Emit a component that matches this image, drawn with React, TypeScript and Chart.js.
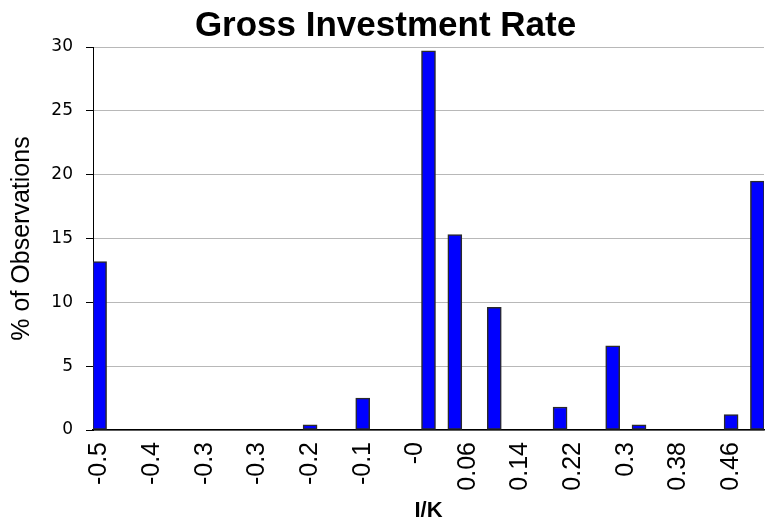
import React, { useEffect, useRef } from "react";
import { Chart, registerables } from "chart.js";

Chart.register(...registerables);

const categories = [
  "-0.50", "-0.48", "-0.46", "-0.44", "-0.42", "-0.40", "-0.38", "-0.36", "-0.34", "-0.32",
  "-0.30", "-0.28", "-0.26", "-0.24", "-0.22", "-0.20", "-0.18", "-0.16", "-0.14", "-0.12",
  "-0.10", "-0.08", "-0.06", "-0.04", "-0.02", "0.00", "0.02", "0.04", "0.06", "0.08",
  "0.10", "0.12", "0.14", "0.16", "0.18", "0.20", "0.22", "0.24", "0.26", "0.28",
  "0.30", "0.32", "0.34", "0.36", "0.38", "0.40", "0.42", "0.44", "0.46", "0.48",
  "0.50",
];

const tickLabels = ["-0.5", "-0.4", "-0.3", "-0.3", "-0.2", "-0.1", "-0", "0.06", "0.14", "0.22", "0.3", "0.38", "0.46"];

const barCategories = ["-0.50", "-0.18", "-0.10", "0.00", "0.04", "0.10", "0.20", "0.28", "0.32", "0.46", "0.50"];
const barValues = [13.2, 0.4, 2.5, 29.7, 15.3, 9.6, 1.8, 6.6, 0.4, 1.2, 19.5];

const yTicks = [0, 5, 10, 15, 20, 25, 30];

const FONT = "'Liberation Sans', Arial, sans-serif";

export default function App() {
  const ref = useRef<HTMLCanvasElement | null>(null);

  useEffect(() => {
    document.body.style.margin = "0";
    if (!ref.current) return;
    const data = categories.map((c) => {
      const i = barCategories.indexOf(c);
      return i >= 0 ? barValues[i] : null;
    });
    const chart = new Chart(ref.current, {
      type: "bar",
      data: {
        labels: categories,
        datasets: [
          {
            data,
            backgroundColor: "#0000ff",
            borderColor: "#2a2a2a",
            borderWidth: 1.5,
            borderSkipped: false,
            barThickness: 14,
          },
        ],
      },
      options: {
        animation: false,
        responsive: false,
        maintainAspectRatio: false,
        layout: { padding: { top: 5, left: 7, right: 1, bottom: 3 } },
        plugins: {
          legend: { display: false },
          tooltip: { enabled: false },
          title: {
            display: true,
            text: "Gross Investment Rate",
            color: "#000",
            font: { family: FONT, size: 35, weight: "bold", lineHeight: 1.2 },
            padding: { top: 0, bottom: 0 },
          },
        },
        scales: {
          x: {
            type: "category",
            offset: true,
            grid: { display: false, drawTicks: false },
            border: { display: true, color: "#000", width: 1.5 },
            afterFit: (axis: any) => {
              axis.paddingRight = 0;
              axis.paddingLeft = 0;
              axis.height = 94;
            },
            ticks: {
              autoSkip: false,
              maxRotation: 90,
              minRotation: 90,
              padding: 12,
              color: "#000",
              font: { family: FONT, size: 25 },
              callback: (_v: any, index: number) => (index % 4 === 0 ? tickLabels[index / 4] : ""),
            },
            title: {
              display: true,
              text: "I/K",
              color: "#000",
              font: { family: FONT, size: 22, weight: "bold" },
              padding: { top: 0, bottom: 0 },
            },
          },
          y: {
            min: 0,
            max: 30,
            afterBuildTicks: (axis: any) => {
              axis.ticks = yTicks.map((v) => ({ value: v }));
            },
            afterFit: (axis: any) => {
              axis.width = 86;
            },
            grid: { color: "#b8b8b8", lineWidth: 1, tickLength: 7, tickColor: "#000" },
            border: { display: true, color: "#000", width: 1 },
            ticks: {
              color: "#000",
              padding: 13,
              font: { family: "'DejaVu Sans', sans-serif", size: 17 },
            },
            title: {
              display: true,
              text: "% of Observations",
              color: "#000",
              font: { family: FONT, size: 25 },
              padding: { top: 0, bottom: 0 },
            },
          },
        },
      },
    });
    return () => chart.destroy();
  }, []);

  return (
    <div style={{ position: "absolute", left: 0, top: 0, width: 765, height: 527 }}>
      <canvas ref={ref} width={765} height={527} style={{ width: 765, height: 527 }} />
    </div>
  );
}
